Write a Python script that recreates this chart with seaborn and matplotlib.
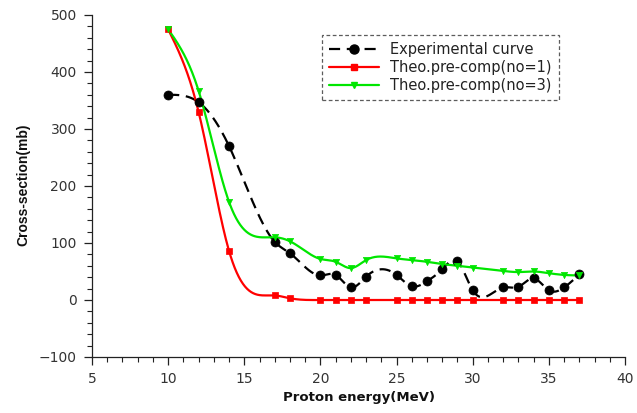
import numpy as np
import pandas as pd
import matplotlib
matplotlib.use("Agg")
import matplotlib.pyplot as plt
from matplotlib.lines import Line2D
from matplotlib.ticker import MultipleLocator
import seaborn as sns

# Proton energies (MeV) at which cross-sections were evaluated
energy = [10, 12, 14, 17, 18, 20, 21, 22, 23, 25, 26, 27, 28, 29, 30,
          32, 33, 34, 35, 36, 37]

# Cross-sections (mb)
experimental = [360, 347, 270, 102, 82, 43, 44, 22, 41, 44, 24, 33, 54, 68, 17,
                22, 23, 38, 17, 22, 45]
theo_no1 = [475, 330, 86, 8, 3, 0, 0, 0, 0, 0, 0, 0, 0, 0, 0,
            0, 0, 0, 0, 0, 0]
theo_no3 = [475, 367, 172, 110, 103, 72, 67, 56, 70, 73, 70, 67, 63, 60, 57,
            51, 49, 50, 47, 44, 43]

series_names = ["Experimental curve", "Theo.pre-comp(no=1)", "Theo.pre-comp(no=3)"]
series_values = [experimental, theo_no1, theo_no3]
series_colors = ["black", "#ff0000", "#00e600"]
series_markers = ["o", "s", "v"]
series_msize = [6.5, 4.5, 4.5]
series_dash = ["--", "-", "-"]


def natural_spline(x, y, n=600):
    """Smooth connecting curve through the points (natural cubic spline)."""
    x = np.asarray(x, float)
    y = np.asarray(y, float)
    k = len(x)
    h = np.diff(x)
    A = np.zeros((k, k))
    r = np.zeros(k)
    A[0, 0] = A[-1, -1] = 1.0
    for i in range(1, k - 1):
        A[i, i - 1] = h[i - 1]
        A[i, i] = 2 * (h[i - 1] + h[i])
        A[i, i + 1] = h[i]
        r[i] = 6 * ((y[i + 1] - y[i]) / h[i] - (y[i] - y[i - 1]) / h[i - 1])
    m = np.linalg.solve(A, r)
    xs = np.linspace(x[0], x[-1], n)
    idx = np.clip(np.searchsorted(x, xs) - 1, 0, k - 2)
    x0, x1 = x[idx], x[idx + 1]
    y0, y1 = y[idx], y[idx + 1]
    m0, m1 = m[idx], m[idx + 1]
    hh = x1 - x0
    a = (x1 - xs) / hh
    b = (xs - x0) / hh
    ys = a * y0 + b * y1 + ((a ** 3 - a) * m0 + (b ** 3 - b) * m1) * hh ** 2 / 6
    return xs, ys


sns.set_theme(style="ticks")
plt.rcParams["font.family"] = ["DejaVu Sans"]

fig = plt.figure(figsize=(6.37, 4.13), dpi=100)
ax = fig.add_axes([0.1444, 0.1356, 0.8368, 0.8281])

handles = []
for name, vals, col, mk, ms, ls in zip(series_names, series_values, series_colors,
                                       series_markers, series_msize, series_dash):
    xs, ys = natural_spline(energy, vals)
    curve = pd.DataFrame({"E": xs, "sigma": ys})
    sns.lineplot(data=curve, x="E", y="sigma", ax=ax, color=col, lw=1.6,
                 zorder=2, legend=False)
    if ls == "--":
        ax.lines[-1].set_dashes([5, 3])
    pts = pd.DataFrame({"E": energy, "sigma": vals})
    sns.scatterplot(data=pts, x="E", y="sigma", ax=ax, color=col, marker=mk,
                    s=ms ** 2, edgecolor=col, linewidth=0.5, zorder=3, legend=False)
    h = Line2D([], [], color=col, lw=1.6, marker=mk, markersize=ms, markeredgecolor=col)
    if ls == "--":
        h.set_dashes([5, 3])
    handles.append(h)

ax.set_xlim(5, 40)
ax.set_ylim(-100, 500)
ax.xaxis.set_major_locator(MultipleLocator(5))
ax.xaxis.set_minor_locator(MultipleLocator(1))
ax.yaxis.set_major_locator(MultipleLocator(100))
ax.yaxis.set_minor_locator(MultipleLocator(20))
ax.tick_params(which="major", direction="out", length=6, width=0.9, color="#222222",
               labelsize=10, labelcolor="#333333")
ax.tick_params(axis="x", which="major", pad=4.5)
ax.tick_params(axis="y", which="major", pad=5)
ax.tick_params(which="minor", direction="out", length=3.5, width=0.8, color="#222222")
for s in ["top", "right"]:
    ax.spines[s].set_visible(False)
for s in ["left", "bottom"]:
    ax.spines[s].set_linewidth(0.9)
    ax.spines[s].set_color("#222222")

ax.set_xlabel("Proton energy(MeV)", fontsize=9.5, fontweight="bold", color="#111111")
ax.set_ylabel("Cross-section(mb)", fontsize=10, fontweight="bold", color="#111111",
              family=["Liberation Sans", "DejaVu Sans"])
ax.xaxis.set_label_coords(0.5, -0.099)
ax.yaxis.set_label_coords(-0.116, 0.503)

leg = fig.legend(handles, series_names, loc="upper left",
                 bbox_to_anchor=(322 / 637, 1 - 35 / 413), borderaxespad=0,
                 fontsize=10.5, handlelength=3.4, handletextpad=0.75,
                 labelspacing=0.2, borderpad=0.5, frameon=True, fancybox=False)
frame = leg.get_frame()
frame.set_linestyle((0, (3, 2)))
frame.set_edgecolor("#333333")
frame.set_linewidth(0.9)
for t in leg.get_texts():
    t.set_color("#222222")

fig.savefig("out.png", dpi=100, facecolor="white")
